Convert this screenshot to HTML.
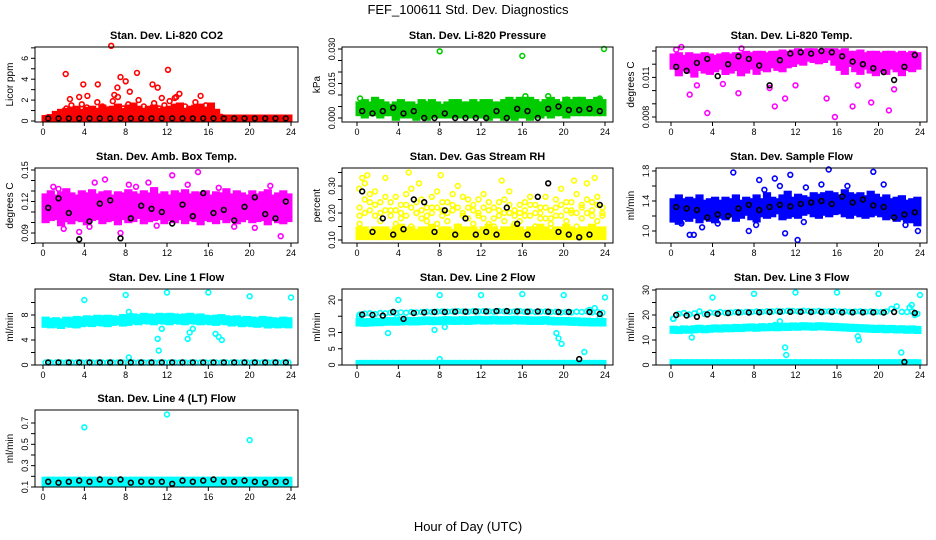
<!DOCTYPE html>
<html><head><meta charset="utf-8"><style>
html,body{margin:0;padding:0;background:#fff;}
svg{display:block;font-family:"Liberation Sans",Arial,sans-serif;}
</style></head><body>
<svg id="chart" width="936" height="540" viewBox="0 0 936 540" xmlns="http://www.w3.org/2000/svg">
<text x="468" y="14" text-anchor="middle" font-size="13">FEF_100611  Std. Dev. Diagnostics</text>
<text x="468" y="531" text-anchor="middle" font-size="13">Hour of Day (UTC)</text>
</svg>
<script>
const hourTicks=[0,4,8,12,16,20,24];
const co2Base=[0.2,0.2,0.2,0.2,0.2,0.2,0.2,0.2,0.2,0.2,0.2,0.2,0.2,0.2,0.2,0.2,0.2,0.2,0.2,0.2,0.2,0.2,0.2,0.2,0.2,0.2,0.2,0.2,0.2,0.2,0.2,0.2,0.2,0.2,0.2,0.2,0.2,0.2,0.2,0.2,0.2,0.2,0.2,0.2,0.2,0.2,0.2,0.2];
const co2A=[0.3,0.3,0.5,0.8,1.2,1.5,1.0,1.6,1.3,0.9,1.8,1.4,1.1,1.9,2.3,1.2,1.6,0.8,2.0,1.4,1.0,1.7,1.2,1.5,1.9,2.2,0.9,1.4,1.1,1.8,2.4,1.5,0.7,0.5,0.4,0.3,0.3,0.3,0.3,0.3,0.3,0.3,0.3,0.3,0.3,0.3,0.3,0.3];
const co2B=[0.3,0.4,0.7,0.9,1.0,1.1,1.2,0.9,1.1,1.2,1.0,1.3,1.1,1.2,1.4,1.0,1.3,1.5,1.2,1.0,1.2,1.3,1.0,1.1,1.2,1.4,1.5,1.0,1.2,1.3,1.4,1.1,1.5,0.9,0.35,0.35,0.35,0.35,0.35,0.35,0.35,0.35,0.35,0.35,0.35,0.35,0.35,0.35];
const co2Out=[[2.2,4.5],[6.6,7.2],[4.3,2.4],[8,3.8],[9.1,4.6],[12.1,4.9],[5.3,3.5],[7.2,3.2],[11.1,3.2],[13.2,2.6],[10.6,3.5],[3.9,3.5],[6.9,2.5],[7.5,4.2],[2.6,2.1],[3.5,2.3],[8.4,2.8],[11.5,2.2],[12.9,2.3]];
const co2Black=[0.25,0.25,0.25,0.25,0.25,0.25,0.25,0.25,0.25,0.25,0.25,0.25,0.25,0.25,0.25,0.25,0.25,0.25,0.25,0.25,0.25,0.25,0.25,0.25];
const presA=[0.006,0.007,0.006,0.008,0.007,0.006,0.005,0.006,0.007,0.006,0.006,0.005,0.007,0.006,0.007,0.006,0.005,0.006,0.007,0.007,0.006,0.006,0.007,0.006,0.007,0.007,0.006,0.006,0.007,0.008,0.007,0.008,0.008,0.008,0.007,0.006,0.007,0.008,0.007,0.006,0.008,0.007,0.008,0.008,0.007,0.007,0.008,0.007];
const presB=[0.002,0.001,0.002,0.002,0.001,0.002,0.002,0.0,0.001,0.001,0.001,0.0,0.001,0.0,0.001,0.001,0.001,0.001,0.001,0.001,0.001,0.001,0.001,0.001,0.001,0.0,0.001,0.001,0.0,0.001,0.0,0.001,0.001,0.0,0.001,0.001,0.002,0.001,0.002,0.002,0.001,0.002,0.002,0.002,0.002,0.002,0.002,0.002];
const presOut=[[0.3,0.0085],[8,0.029],[16,0.027],[23.9,0.030],[18.5,0.0095],[20.3,0.008],[16.3,0.0095],[23.5,0.0085],[2,0.0065],[6.5,0.0065]];
const presBlack=[0.003,0.002,0.003,0.0045,0.002,0.003,0.0,0.0,0.002,0.0,0.0,0.0,0.0,0.003,0.0,0.004,0.003,0.0,0.004,0.005,0.0035,0.0035,0.004,0.003];
const tA=[0.0126,0.0127,0.0125,0.0127,0.0126,0.0126,0.0127,0.0126,0.0125,0.0126,0.0127,0.0126,0.0127,0.0127,0.0128,0.0127,0.0128,0.0128,0.0127,0.0128,0.0128,0.0129,0.0128,0.0129,0.0130,0.0129,0.0130,0.0130,0.0129,0.0130,0.0130,0.0130,0.0129,0.0130,0.0128,0.0128,0.0129,0.0127,0.0128,0.0128,0.0127,0.0128,0.0128,0.0127,0.0128,0.0127,0.0128,0.0127];
const tB=[0.0118,0.0113,0.0117,0.0115,0.0112,0.0117,0.0115,0.0114,0.0116,0.0118,0.0114,0.0115,0.0117,0.0113,0.0115,0.0118,0.0114,0.0117,0.0116,0.0119,0.0117,0.0116,0.0119,0.0120,0.0122,0.0121,0.0124,0.0123,0.0122,0.0123,0.0125,0.0121,0.0117,0.0114,0.0120,0.0116,0.0114,0.0118,0.0115,0.0113,0.0116,0.0114,0.0118,0.0116,0.0113,0.0117,0.0116,0.0118];
const tOut=[[3.5,0.0083],[10,0.0088],[11,0.0094],[15,0.0094],[17.5,0.0088],[19.3,0.0091],[1.8,0.0097],[21,0.0085],[15.8,0.008],[6.5,0.0098],[1,0.0133],[0.5,0.0131],[6.8,0.0132],[2.5,0.0104],[5,0.0105],[9.5,0.0102],[12,0.0104],[18,0.0104],[21.5,0.0101]];
const tBlack=[0.0118,0.0115,0.0121,0.0124,0.0111,0.0120,0.0126,0.0124,0.0119,0.0104,0.0123,0.0128,0.0129,0.0128,0.0130,0.0129,0.0126,0.0122,0.0120,0.0117,0.0114,0.0108,0.0118,0.0127];
const bA=[0.125,0.128,0.124,0.127,0.13,0.126,0.124,0.128,0.126,0.129,0.125,0.127,0.128,0.124,0.127,0.126,0.129,0.127,0.125,0.128,0.126,0.131,0.125,0.127,0.124,0.128,0.126,0.129,0.125,0.127,0.126,0.128,0.124,0.127,0.126,0.13,0.125,0.128,0.126,0.124,0.128,0.125,0.127,0.129,0.124,0.126,0.128,0.125];
const bB=[0.102,0.104,0.105,0.099,0.103,0.101,0.104,0.103,0.1,0.104,0.105,0.101,0.103,0.104,0.1,0.105,0.102,0.103,0.106,0.101,0.103,0.104,0.105,0.101,0.104,0.102,0.105,0.101,0.104,0.103,0.1,0.104,0.103,0.101,0.105,0.102,0.104,0.101,0.103,0.105,0.102,0.103,0.104,0.1,0.104,0.102,0.101,0.103];
const bOut=[[1,0.134],[3.5,0.091],[6,0.141],[7.5,0.09],[10.2,0.138],[12.5,0.145],[15,0.148],[20.5,0.095],[23,0.087],[5,0.138],[8.3,0.136],[2,0.094],[1.5,0.132],[9,0.134],[14,0.136],[17,0.133],[22,0.135],[4.5,0.096],[11,0.097],[18.5,0.096]];
const bBlack=[0.114,0.123,0.109,0.084,0.101,0.118,0.121,0.085,0.104,0.116,0.113,0.11,0.099,0.117,0.106,0.128,0.109,0.112,0.102,0.115,0.124,0.108,0.104,0.12];
const rLow=[0.14,0.14,0.13,0.14,0.14,0.14,0.13,0.14,0.15,0.14,0.14,0.13,0.14,0.14,0.15,0.13,0.14,0.14,0.13,0.15,0.14,0.14,0.14,0.13,0.14,0.15,0.14,0.13,0.14,0.14,0.15,0.14,0.13,0.14,0.14,0.15,0.14,0.13,0.14,0.14,0.15,0.14,0.13,0.14,0.14,0.15,0.14,0.14];
const rLow2=[0.11,0.11,0.11,0.11,0.11,0.11,0.11,0.11,0.11,0.11,0.11,0.11,0.11,0.11,0.11,0.11,0.11,0.11,0.11,0.11,0.11,0.11,0.11,0.11,0.11,0.11,0.11,0.11,0.11,0.11,0.11,0.11,0.11,0.11,0.11,0.11,0.11,0.11,0.11,0.11,0.11,0.11,0.11,0.11,0.11,0.11,0.11,0.11];
const rHigh=[0.22,0.31,0.27,0.19,0.24,0.33,0.21,0.26,0.18,0.23,0.29,0.2,0.25,0.17,0.22,0.28,0.19,0.24,0.21,0.3,0.26,0.18,0.23,0.2,0.27,0.16,0.22,0.19,0.25,0.28,0.21,0.17,0.24,0.19,0.23,0.2,0.26,0.18,0.22,0.29,0.24,0.2,0.27,0.23,0.31,0.19,0.26,0.22];
const rHigh2=[0.16,0.2,0.24,0.28,0.17,0.21,0.19,0.16,0.23,0.27,0.15,0.2,0.18,0.22,0.26,0.16,0.24,0.17,0.27,0.15,0.19,0.22,0.16,0.25,0.18,0.21,0.15,0.24,0.17,0.2,0.16,0.23,0.19,0.26,0.15,0.22,0.18,0.16,0.25,0.19,0.17,0.21,0.15,0.18,0.2,0.24,0.17,0.19];
const rHigh3=[0.19,0.25,0.21,0.23,0.2,0.26,0.24,0.21,0.2,0.19,0.22,0.24,0.21,0.19,0.2,0.22,0.21,0.2,0.23,0.22,0.2,0.25,0.21,0.19,0.22,0.24,0.18,0.21,0.2,0.23,0.19,0.2,0.21,0.23,0.2,0.18,0.22,0.21,0.19,0.23,0.21,0.24,0.2,0.22,0.25,0.21,0.23,0.2];
const rOut=[[0.5,0.33],[5,0.35],[6,0.31],[1,0.34],[14,0.32],[21,0.32],[23,0.33],[8.1,0.34],[0.2,0.29]];
const rBlack=[0.28,0.13,0.18,0.12,0.14,0.25,0.24,0.13,0.21,0.12,0.18,0.12,0.13,0.12,0.22,0.16,0.12,0.26,0.31,0.13,0.12,0.11,0.12,0.23];
const sA=[1.4,1.45,1.4,1.42,1.4,1.45,1.38,1.4,1.42,1.38,1.42,1.4,1.45,1.38,1.42,1.4,1.45,1.4,1.48,1.42,1.4,1.45,1.5,1.42,1.46,1.44,1.42,1.48,1.46,1.48,1.5,1.48,1.45,1.52,1.48,1.46,1.48,1.44,1.5,1.46,1.42,1.45,1.4,1.42,1.44,1.38,1.4,1.42];
const sB=[1.15,1.12,1.18,1.16,1.2,1.14,1.18,1.16,1.14,1.2,1.18,1.22,1.16,1.2,1.24,1.18,1.15,1.22,1.2,1.22,1.26,1.18,1.2,1.22,1.2,1.24,1.26,1.22,1.2,1.24,1.22,1.25,1.26,1.22,1.2,1.24,1.22,1.2,1.22,1.24,1.22,1.18,1.2,1.16,1.18,1.15,1.14,1.1];
const sOut=[[1,1.1],[1.8,0.95],[2.2,0.95],[6,1.78],[8.5,1.68],[10,1.7],[11.5,1.75],[15.2,1.82],[19.5,1.79],[12.2,0.88],[7.5,1.0],[23.8,1.0],[11,0.97],[9,1.55],[10.5,1.6],[13,1.58],[14.5,1.62],[17,1.6],[20.5,1.62],[3,1.05],[4.5,1.1],[8.2,1.08],[12.8,1.12],[22.6,1.08]];
const sBlack=[1.32,1.3,1.28,1.18,1.22,1.2,1.3,1.35,1.28,1.32,1.35,1.33,1.36,1.38,1.4,1.36,1.46,1.38,1.42,1.34,1.32,1.18,1.22,1.25];
const l1Hi=[7.3,7.1,7.2,7.0,7.3,7.2,7.4,7.3,7.5,7.4,7.6,7.5,7.6,7.5,7.4,7.7,7.6,7.8,7.7,7.9,7.8,7.7,7.9,7.8,7.9,7.8,7.7,7.8,7.9,7.7,7.8,7.6,7.5,7.6,7.7,7.5,7.4,7.5,7.3,7.4,7.3,7.2,7.4,7.3,7.2,7.1,7.3,7.2];
const l1Lo=[6.4,6.3,6.4,6.2,6.5,6.4,6.3,6.5,6.6,6.5,6.7,6.6,6.5,6.7,6.8,6.6,6.7,6.9,6.8,7.0,6.9,6.8,7.0,6.9,6.8,7.0,6.9,6.8,7.0,6.9,6.8,6.9,6.8,6.7,6.9,6.8,6.6,6.7,6.5,6.6,6.5,6.4,6.5,6.3,6.4,6.3,6.4,6.3];
const l1Bot=[0.4,0.4,0.4,0.4,0.4,0.4,0.4,0.4,0.4,0.4,0.4,0.4,0.4,0.4,0.4,0.4,0.4,0.4,0.4,0.4,0.4,0.4,0.4,0.4,0.4,0.4,0.4,0.4,0.4,0.4,0.4,0.4,0.4,0.4,0.4,0.4,0.4,0.4,0.4,0.4,0.4,0.4,0.4,0.4,0.4,0.4,0.4,0.4];
const l1Out=[[4,10.4],[8,11.2],[12,11.6],[16,11.6],[20,11.0],[24,10.8],[11.2,2.3],[11.1,4.2],[11.5,5.8],[14,4.2],[14.2,5.2],[14.5,5.8],[16.7,5.0],[17,4.5],[17.3,4.0],[8.3,8.5],[8.5,7.9],[8.3,1.2],[7.8,7.6]];
const l1Black=[0.4,0.4,0.4,0.4,0.4,0.4,0.4,0.4,0.4,0.4,0.4,0.4,0.4,0.4,0.4,0.4,0.4,0.4,0.4,0.4,0.4,0.4,0.4,0.4];
const l2Top=[15.5,15.8,15.9,15.7,16,15.9,16.1,16,16.2,16.1,16.3,16.2,16.3,16.4,16.3,16.4,16.5,16.4,16.5,16.6,16.5,16.4,16.6,16.5,16.6,16.5,16.4,16.6,16.5,16.4,16.5,16.6,16.4,16.5,16.3,16.4,16.5,16.3,16.4,16.2,16.3,16.2,16.4,16.3,16.5,16.2,16.3,16.1];
const l2Mid=[13.6,13.5,13.6,13.7,13.7,13.8,13.9,13.8,13.9,14.0,13.9,13.9,14.0,14.1,14.0,14.0,14.1,14.2,14.1,14.1,14.2,14.1,14.2,14.3,14.2,14.2,14.3,14.2,14.2,14.2,14.3,14.2,14.2,14.1,14.1,14.1,14.2,14.0,13.9,13.9,13.9,13.8,13.8,13.7,13.7,13.6,13.6,13.6];
const l2Mid2=[12.7,12.6,12.7,12.8,12.8,12.9,13.0,12.9,13.0,13.1,13.0,13.0,13.1,13.2,13.1,13.1,13.2,13.3,13.2,13.2,13.3,13.2,13.3,13.4,13.3,13.3,13.4,13.3,13.3,13.3,13.4,13.3,13.3,13.2,13.2,13.2,13.3,13.1,13.0,13.0,13.0,12.9,12.9,12.8,12.8,12.7,12.7,12.7];
const l2Bot=[0.7,0.7,0.7,0.7,0.7,0.7,0.7,0.7,0.7,0.7,0.7,0.7,0.7,0.7,0.7,0.7,0.7,0.7,0.7,0.7,0.7,0.7,0.7,0.7,0.7,0.7,0.7,0.7,0.7,0.7,0.7,0.7,0.7,0.7,0.7,0.7,0.7,0.7,0.7,0.7,0.7,0.7,0.7,0.7,0.7,0.7,0.7,0.7];
const l2Out=[[4,20],[8,21.5],[12,21.5],[16,21.8],[20,21.5],[24,20.8],[3,9.8],[7.5,10.8],[8.5,11.7],[19.3,9.8],[19.5,8.2],[19.8,6.5],[22,4],[8,1.8],[23.5,14.5],[22.5,17],[23,17.5],[3.9,14.5],[0.2,15]];
const l2Black=[15.5,15.4,15.2,16.3,14.2,16.0,16.2,16.3,16.3,16.4,16.4,16.5,16.5,16.6,16.6,16.5,16.4,16.5,16.4,16.3,16.3,1.8,16.3,15.7];
const l3Top=[18.5,20.5,20.8,20.2,20.7,21.5,20.4,21,20.8,21.2,20.9,21,21.2,21.1,21.3,21.2,21.4,21.3,21.5,21.4,21.6,21.5,21.7,21.6,21.5,21.7,21.6,21.5,21.6,21.4,21.5,21.6,21.4,21.5,21.3,21.4,21.5,21.3,21.4,21.3,21.2,21.4,22.5,23.5,21.3,21.2,21.4,20.5];
const l3Mid=[14.6,14.4,14.7,14.5,14.8,15.0,14.7,14.9,15.1,15.0,15.2,15.1,15.3,15.2,15.4,15.5,15.3,15.6,15.5,15.7,15.6,15.8,15.7,15.9,15.8,16.0,15.9,15.8,16.0,15.9,15.8,15.7,15.6,15.5,15.4,15.3,15.2,15.1,15.0,14.9,15.0,14.8,14.9,14.7,14.8,14.6,14.7,14.5];
const l3Mid2=[13.6,13.5,13.7,13.6,13.8,14.0,13.8,14.0,14.2,14.1,14.3,14.2,14.3,14.3,14.5,14.6,14.4,14.6,14.6,14.7,14.6,14.8,14.7,14.9,14.8,15.0,14.9,14.8,15.0,14.9,14.8,14.7,14.6,14.5,14.4,14.3,14.2,14.1,14.0,13.9,14.0,13.8,13.9,13.7,13.8,13.6,13.7,13.5];
const l3Bot=[1.2,1.2,1.2,1.2,1.2,1.2,1.2,1.2,1.2,1.2,1.2,1.2,1.2,1.2,1.2,1.2,1.2,1.2,1.2,1.2,1.2,1.2,1.2,1.2,1.2,1.2,1.2,1.2,1.2,1.2,1.2,1.2,1.2,1.2,1.2,1.2,1.2,1.2,1.2,1.2,1.2,1.2,1.2,1.2,1.2,1.2,1.2,1.2];
const l3Out=[[4,27],[8,28.5],[12,29],[16,29],[20,28.5],[24,28],[2,11],[11,7],[11.1,4],[10.5,17.5],[10,16],[18,11.5],[18.1,10],[22.2,5],[22.5,14.5],[23,23],[23.2,24],[23.5,20],[0.2,18.5]];
const l3Black=[20,19.8,19.3,20.2,20.5,20.8,21,21,21.1,21.2,21.3,21.3,21.3,21.2,21.2,21.2,21.1,21.1,21.1,21.1,21,21.2,1.2,20.8];
const l4A=[0.17,0.17,0.17,0.17,0.17,0.17,0.17,0.17,0.17,0.17,0.17,0.17,0.17,0.17,0.17,0.17,0.17,0.17,0.17,0.17,0.17,0.17,0.17,0.17,0.17,0.17,0.17,0.17,0.17,0.17,0.17,0.17,0.17,0.17,0.17,0.17,0.17,0.17,0.17,0.17,0.17,0.17,0.17,0.17,0.17,0.17,0.17,0.17];
const l4B=[0.13,0.13,0.13,0.13,0.13,0.13,0.13,0.13,0.13,0.13,0.13,0.13,0.13,0.13,0.13,0.13,0.13,0.13,0.13,0.13,0.13,0.13,0.13,0.13,0.13,0.13,0.13,0.13,0.13,0.13,0.13,0.13,0.13,0.13,0.13,0.13,0.13,0.13,0.13,0.13,0.13,0.13,0.13,0.13,0.13,0.13,0.13,0.13];
const l4Out=[[4,0.66],[12,0.78],[20,0.54]];
const l4Black=[0.15,0.14,0.15,0.16,0.15,0.17,0.15,0.17,0.14,0.15,0.15,0.15,0.13,0.16,0.15,0.16,0.17,0.15,0.15,0.16,0.15,0.14,0.15,0.15];

const NS="http://www.w3.org/2000/svg";
const svg=document.getElementById('chart');
const colL=[35,342,656], colR=[298,613,927], colX0=[43,357,671], colX24=[291,605,920];
const rowT=[47,168,289,410], rowB=[122,243,365,487];
function mk(tag,attrs,parent){const e=document.createElementNS(NS,tag);for(const k in attrs)e.setAttribute(k,attrs[k]);(parent||svg).appendChild(e);return e;}
function panel(o){
  const g=mk('g',{});
  
  
  const L=colL[o.c],R=colR[o.c],T=rowT[o.r],B=rowB[o.r];
  const xs=h=>colX0[o.c]+(colX24[o.c]-colX0[o.c])*h/24;
  const ys=v=>o.p0+(o.p1-o.p0)*(v-o.v0)/(o.v1-o.v0);
  const t=mk('text',{x:(L+R)/2,y:T-8,'text-anchor':'middle','font-size':11,'font-weight':'bold'},g);
  t.textContent=o.title;
  
  
  const ax=mk('g',{stroke:'#000','stroke-width':1},g);
  
  
  mk('line',{x1:xs(0),x2:xs(24),y1:B,y2:B},ax);
  hourTicks.forEach(h=>{mk('line',{x1:xs(h),x2:xs(h),y1:B,y2:B+4},ax);
    const tl=mk('text',{x:xs(h),y:B+13,'text-anchor':'middle','font-size':9,stroke:'none'},ax);tl.textContent=h;
    
    });
  const ay=mk('g',{stroke:'#000','stroke-width':1},g);
  
  
  o.ticks.forEach(v=>mk('line',{x1:L-4,x2:L,y1:ys(v),y2:ys(v)},ay));
  o.labels.forEach((lab,i)=>{const y=ys(o.labelVals[i]);
    const tl=mk('text',{x:L-7,y:y,'text-anchor':'middle','font-size':9,stroke:'none',transform:`rotate(-90 ${L-7} ${y})`},ay);tl.textContent=lab;
    
    });
  const yt=mk('text',{x:L-22,y:(T+B)/2,'text-anchor':'middle','font-size':10,transform:`rotate(-90 ${L-22} ${(T+B)/2})`},g);
  yt.textContent=o.ylab;
  
  
  o.series.forEach(s=>{
    if(s.lo){
      const bg=mk('g',{fill:s.col,stroke:'none'},g);
      
      
      const n=s.lo.length,w=24/n;
      s.lo.forEach((lv,i)=>{const hv=s.hi[i];
        const y1=Math.min(ys(lv),ys(hv))-2.8,y2=Math.max(ys(lv),ys(hv))+2.8;
        const x1=xs(i*w)-1.5,x2=xs((i+1)*w)+1.5;
        const r=mk('rect',{x:x1.toFixed(1),y:y1.toFixed(1),width:(x2-x1).toFixed(1),height:(y2-y1).toFixed(1)},bg);
        
        });
      return;
    }
    const sg=mk('g',{fill:'none',stroke:s.col,'stroke-width':1.6},g);
    
    
    let pts;
    if(s.pairs) pts=s.pairs;
    else{const n=s.vals.length;pts=s.vals.map((v,i)=>[(i+0.5)*24/n,v]);}
    pts.forEach(p=>{const c=mk('circle',{cx:xs(p[0]).toFixed(1),cy:ys(p[1]).toFixed(1),r:2.4},sg);
      
      });
  });
  const box=mk('rect',{x:L,y:T,width:R-L,height:B-T,fill:'none',stroke:'#000','stroke-width':1},g);
  
  
}
const RED='#ff0000',GRN='#00cc00',MAG='#ff00ff',YEL='#ffff00',BLU='#0000ff',CY='#00ffff',BK='#000';
panel({name:'panel-co2',c:0,r:0,title:'Stan. Dev. Li-820 CO2',ylab:'Licor ppm',v0:0,v1:6,p0:121,p1:58.3,ticks:[0,1,2,3,4,5,6,7],labelVals:[0,2,4,6],labels:['0','2','4','6'],
  series:[{name:'co2-band',col:RED,lo:co2Base,hi:co2B},{name:'co2-series-a',col:RED,vals:co2A},{name:'co2-outliers',col:RED,pairs:co2Out},{name:'co2-black-series',col:BK,vals:co2Black}]});
panel({name:'panel-pressure',c:1,r:0,title:'Stan. Dev. Li-820 Pressure',ylab:'kPa',v0:0,v1:0.03,p0:118,p1:49,ticks:[0,0.005,0.01,0.015,0.02,0.025,0.03],labelVals:[0,0.015,0.03],labels:['0.000','0.015','0.030'],
  series:[{name:'pressure-band',col:GRN,lo:presB,hi:presA},{name:'pressure-outliers',col:GRN,pairs:presOut},{name:'pressure-black-series',col:BK,vals:presBlack}]});
panel({name:'panel-li820-temp',c:2,r:0,title:'Stan. Dev. Li-820 Temp.',ylab:'degrees C',v0:0.008,v1:0.013,p0:117,p1:51,ticks:[0.008,0.009,0.01,0.011,0.012,0.013],labelVals:[0.008,0.011],labels:['0.008','0.011'],
  series:[{name:'temp-band',col:MAG,lo:tB,hi:tA},{name:'temp-outliers',col:MAG,pairs:tOut},{name:'temp-black-series',col:BK,vals:tBlack}]});
panel({name:'panel-box-temp',c:0,r:1,title:'Stan. Dev. Amb. Box Temp.',ylab:'degrees C',v0:0.09,v1:0.15,p0:233,p1:170,ticks:[0.08,0.09,0.1,0.11,0.12,0.13,0.14,0.15],labelVals:[0.09,0.12,0.15],labels:['0.09','0.12','0.15'],
  series:[{name:'box-band',col:MAG,lo:bB,hi:bA},{name:'box-outliers',col:MAG,pairs:bOut},{name:'box-black-series',col:BK,vals:bBlack}]});
panel({name:'panel-gas-rh',c:1,r:1,title:'Stan. Dev. Gas Stream RH',ylab:'percent',v0:0.1,v1:0.3,p0:240,p1:186,ticks:[0.1,0.15,0.2,0.25,0.3,0.35],labelVals:[0.1,0.2,0.3],labels:['0.10','0.20','0.30'],
  series:[{name:'rh-low-band',col:YEL,lo:rLow2,hi:rLow},{name:'rh-high-a',col:YEL,vals:rHigh},{name:'rh-high-b',col:YEL,vals:rHigh2},{name:'rh-high-c',col:YEL,vals:rHigh3},{name:'rh-outliers',col:YEL,pairs:rOut},{name:'rh-black-series',col:BK,vals:rBlack}]});
panel({name:'panel-sample-flow',c:2,r:1,title:'Stan. Dev. Sample Flow',ylab:'ml/min',v0:1.0,v1:1.8,p0:231,p1:171,ticks:[1.0,1.2,1.4,1.6,1.8],labelVals:[1.0,1.4,1.8],labels:['1.0','1.4','1.8'],
  series:[{name:'flow-band',col:BLU,lo:sB,hi:sA},{name:'flow-outliers',col:BLU,pairs:sOut},{name:'flow-black-series',col:BK,vals:sBlack}]});
panel({name:'panel-line1',c:0,r:2,title:'Stan. Dev. Line 1 Flow',ylab:'ml/min',v0:0,v1:8,p0:365,p1:315,ticks:[0,2,4,6,8,10],labelVals:[0,4,8],labels:['0','4','8'],
  series:[{name:'line1-band',col:CY,lo:l1Lo,hi:l1Hi},{name:'line1-bottom',col:CY,vals:l1Bot},{name:'line1-outliers',col:CY,pairs:l1Out},{name:'line1-black-series',col:BK,vals:l1Black}]});
panel({name:'panel-line2',c:1,r:2,title:'Stan. Dev. Line 2 Flow',ylab:'ml/min',v0:0,v1:20,p0:365,p1:300,ticks:[0,5,10,15,20],labelVals:[0,5,10,20],labels:['0','5','10','20'],
  series:[{name:'line2-mid-band',col:CY,lo:l2Mid2,hi:l2Mid},{name:'line2-top',col:CY,vals:l2Top},{name:'line2-bottom',col:CY,lo:l2Bot,hi:l2Bot},{name:'line2-outliers',col:CY,pairs:l2Out},{name:'line2-black-series',col:BK,vals:l2Black}]});
panel({name:'panel-line3',c:2,r:2,title:'Stan. Dev. Line 3 Flow',ylab:'ml/min',v0:0,v1:30,p0:365,p1:290,ticks:[0,5,10,15,20,25,30],labelVals:[0,10,20,30],labels:['0','10','20','30'],
  series:[{name:'line3-mid-band',col:CY,lo:l3Mid2,hi:l3Mid},{name:'line3-top',col:CY,vals:l3Top},{name:'line3-bottom',col:CY,lo:l3Bot,hi:l3Bot},{name:'line3-outliers',col:CY,pairs:l3Out},{name:'line3-black-series',col:BK,vals:l3Black}]});
panel({name:'panel-line4',c:0,r:3,title:'Stan. Dev. Line 4 (LT) Flow',ylab:'ml/min',v0:0.1,v1:0.7,p0:487,p1:423,ticks:[0.1,0.2,0.3,0.4,0.5,0.6,0.7],labelVals:[0.1,0.3,0.5,0.7],labels:['0.1','0.3','0.5','0.7'],
  series:[{name:'line4-band',col:CY,lo:l4B,hi:l4A},{name:'line4-outliers',col:CY,pairs:l4Out},{name:'line4-black-series',col:BK,vals:l4Black}]});
</script>
</body></html>
